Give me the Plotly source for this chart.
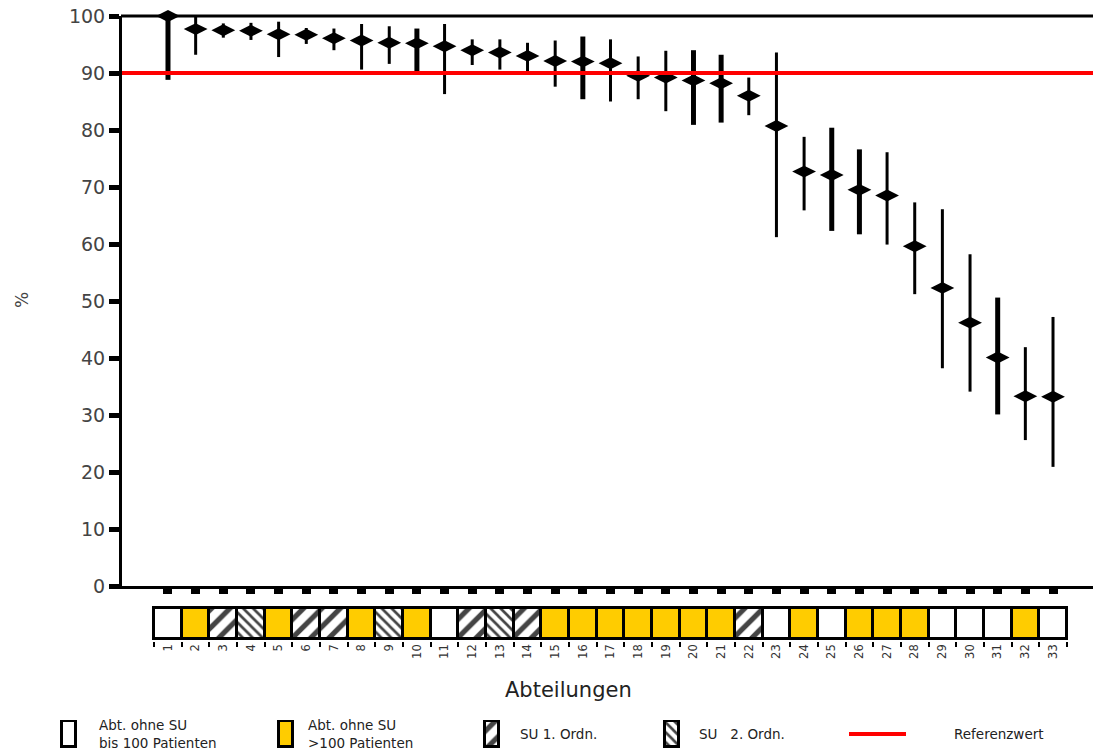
import plotly.graph_objects as go

# ---------------- data ----------------
categories = list(range(1, 34))
tick_labels = [str(c) for c in categories]
values = [100, 97.7, 97.5, 97.4, 96.8, 96.7, 96.1, 95.7, 95.3, 95.2, 94.7, 94.0, 93.6, 93.0,
          92.1, 92.0, 91.7, 89.5, 89.2, 88.7, 88.2, 86.0, 80.7, 72.7, 72.1, 69.5, 68.5,
          59.6, 52.3, 46.2, 40.1, 33.3, 33.2]
upper = [100, 99.9, 98.7, 98.8, 99.0, 97.9, 97.8, 98.6, 98.2, 97.8, 98.6, 95.9, 95.9, 95.3,
         95.7, 96.4, 95.9, 92.9, 93.9, 94.0, 93.2, 89.2, 93.6, 78.8, 80.4, 76.6, 76.1,
         67.3, 66.1, 58.2, 50.6, 41.9, 47.2]
lower = [88.8, 93.2, 96.2, 95.8, 92.8, 95.1, 94.0, 90.6, 91.6, 90.2, 86.3, 91.4, 90.6, 90.2,
         87.6, 85.4, 85.0, 85.4, 83.3, 80.9, 81.3, 82.6, 61.2, 65.9, 62.3, 61.7, 59.9,
         51.2, 38.2, 34.1, 30.1, 25.6, 20.9]
# A = Abt. ohne SU bis 100 Pat., B = Abt. ohne SU >100 Pat., S1 = SU 1. Ordn., S2 = SU 2. Ordn.
types = ["A", "B", "S1", "S2", "B", "S1", "S1", "B", "S2", "B", "A", "S1", "S2", "S1",
         "B", "B", "B", "B", "B", "B", "B", "S1", "A", "B", "A", "B", "B", "B",
         "A", "A", "A", "B", "A"]
reference_value = 90
y_top = 100
legend_labels = ["Abt. ohne SU<br>bis 100 Patienten", "Abt. ohne SU<br>>100 Patienten",
                 "SU 1. Ordn.", "SU\u00a0\u00a0 2. Ordn.", "Referenzwert"]
x_title = "Abteilungen"
y_title = "%"

# ---------------- styles ----------------
W, H = 1093, 756
YELLOW = "#FFCC00"
type_style = {
    "A": dict(color="white", shape="", fg="black", size=8, sol=0.3),
    "B": dict(color=YELLOW, shape="", fg="black", size=8, sol=0.3),
    "S1": dict(color="white", shape="/", fg="black", size=13, sol=0.4),
    "S2": dict(color="white", shape="\\", fg="black", size=7, sol=0.38),
}
thick_cats = {1, 10, 16, 20, 21, 25, 26, 31}


def px(x):
    return x / W


def py(y):
    return 1 - y / H


fig = go.Figure()

# error bars + markers (two thicknesses)
for thick in (False, True):
    idx = [i for i, c in enumerate(categories) if (c in thick_cats) == thick]
    fig.add_trace(go.Scatter(
        x=[categories[i] for i in idx],
        y=[values[i] for i in idx],
        mode="markers",
        marker=dict(symbol="diamond-wide", size=17, color="black"),
        error_y=dict(type="data", symmetric=False,
                     array=[upper[i] - values[i] for i in idx],
                     arrayminus=[values[i] - lower[i] for i in idx],
                     color="black", thickness=5 if thick else 3, width=0),
        cliponaxis=False, showlegend=False, hoverinfo="skip",
        xaxis="x", yaxis="y",
    ))


def bar_marker(tlist):
    return dict(
        color=[type_style[t]["color"] for t in tlist],
        line=dict(color="black", width=3),
        pattern=dict(
            shape=[type_style[t]["shape"] for t in tlist],
            fgcolor=[type_style[t]["fg"] for t in tlist],
            bgcolor=[type_style[t]["color"] for t in tlist],
            size=[type_style[t]["size"] for t in tlist],
            solidity=[type_style[t]["sol"] for t in tlist],
            fgopacity=1,
        ),
    )


# category strip
fig.add_trace(go.Bar(
    x=categories, y=[1] * len(categories), base=0, width=1,
    marker=bar_marker(types), showlegend=False, hoverinfo="skip",
    xaxis="x2", yaxis="y2",
))

# legend icons
legend_types = ["A", "B", "S1", "S2"]
legend_icon_x = [69, 286, 492, 672]
fig.add_trace(go.Bar(
    x=legend_icon_x, y=[1] * 4, base=0, width=14,
    marker=bar_marker(legend_types), showlegend=False, hoverinfo="skip",
    xaxis="x3", yaxis="y3",
))

main_range = [-0.663, 34.446]
fig.update_layout(
    width=W, height=H,
    margin=dict(l=0, r=0, t=0, b=0, autoexpand=False),
    paper_bgcolor="white", plot_bgcolor="white",
    showlegend=False,
    bargap=0,
    font=dict(family="DejaVu Sans", color="#333"),
    xaxis=dict(domain=[px(122), 1], range=main_range, tickvals=categories,
               showticklabels=False, ticks="outside", ticklen=5, tickwidth=9,
               tickcolor="black", showline=True, linewidth=3, linecolor="black",
               showgrid=False, zeroline=False, anchor="y", automargin=False),
    yaxis=dict(domain=[py(586), py(16)], range=[0, y_top], tickvals=list(range(0, 101, 10)),
               ticks="outside", ticklen=10, tickwidth=5, tickcolor="black",
               showline=True, linewidth=3, linecolor="black", showgrid=False,
               zeroline=False, tickfont=dict(size=19, color="#444", family="DejaVu Sans"),
               anchor="x", automargin=False),
    xaxis2=dict(domain=[px(122), 1], range=main_range, tickvals=categories,
                ticktext=tick_labels, tickangle=-90, ticks="",
                minor=dict(ticks="outside", tickvals=[c + 0.5 for c in [0] + categories],
                           ticklen=5, tickwidth=1.5, tickcolor="black"),
                tickfont=dict(size=11.5, color="#333", family="DejaVu Sans"),
                showline=False, showgrid=False, zeroline=False, anchor="y2",
                automargin=False),
    yaxis2=dict(domain=[py(641), py(606)], range=[-0.05, 1.05], visible=False,
                anchor="x2", automargin=False),
    xaxis3=dict(domain=[0, 1], range=[0, W], visible=False, anchor="y3", automargin=False),
    yaxis3=dict(domain=[py(748), py(720)], range=[-0.05, 1.05], visible=False,
                anchor="x3", automargin=False),
)

# top border line (at the top of the plot area, i.e. 100 %), not clipped
fig.add_shape(type="line", xref="paper", yref="paper", x0=px(121), x1=1,
              y0=py(16), y1=py(16), line=dict(color="black", width=3), layer="below")
# reference line
fig.add_shape(type="line", xref="x domain", x0=0, x1=1, yref="y",
              y0=reference_value, y1=reference_value, line=dict(color="#FF0000", width=4))
# legend red line
fig.add_shape(type="line", xref="paper", yref="paper", x0=px(849), x1=px(906),
              y0=py(734), y1=py(734), line=dict(color="#FF0000", width=4))

# titles
fig.add_annotation(text=x_title, xref="paper", yref="paper", x=px(568), y=py(690),
                   xanchor="center", yanchor="middle",
                   showarrow=False, font=dict(size=21, color="#222"))
fig.add_annotation(text=y_title, xref="paper", yref="paper", x=px(22), y=py(300),
                   xanchor="center", yanchor="middle",
                   textangle=-90, showarrow=False, font=dict(size=17, color="#444"))

# legend text
legend_text_x = [97, 306, 518, 697, 952]
for lab, lx in zip(legend_labels, legend_text_x):
    fig.add_annotation(text=lab, xref="paper", yref="paper", x=px(lx), y=py(734),
                       xanchor="left", yanchor="middle", align="left", showarrow=False,
                       font=dict(size=13.5, color="#222"))

fig.write_html("out.html", config={"displayModeBar": False},
               post_script="document.body.style.margin='0';document.body.style.padding='0';")
